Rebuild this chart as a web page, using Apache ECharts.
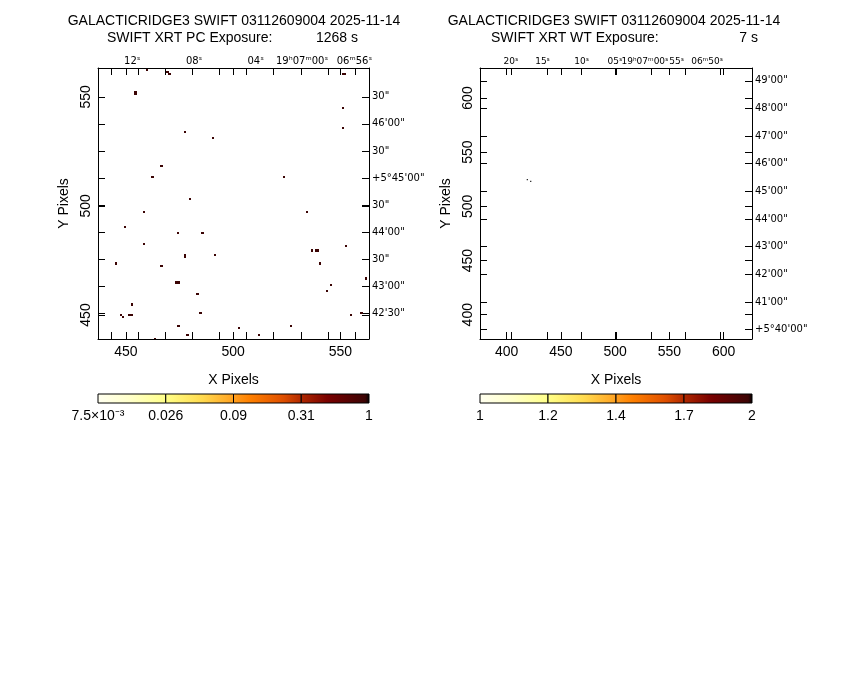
<!DOCTYPE html>
<html><head><meta charset="utf-8">
<script src="https://cdn.jsdelivr.net/npm/echarts@6/dist/echarts.min.js"></script>
<style>html,body{margin:0;padding:0;background:#fff}#c{width:850px;height:680px}</style>
</head><body><div id="c"></div>
<script>
// ---------------- data ----------------
const titleLine = 'GALACTICRIDGE3 SWIFT 03112609004 2025-11-14';
const pcSubtitle = 'SWIFT XRT PC Exposure:';
const pcExposure = '1268 s';
const wtSubtitle = 'SWIFT XRT WT Exposure:';
const wtExposure = '7 s';

const pcXRange = [437.0, 563.3];
const pcYRange = [439.0, 563.2];
const wtXRange = [375.4, 626.2];
const wtYRange = [377.6, 627.7];

const pcPixelTicks = [450, 500, 550];
const wtPixelTicks = [400, 450, 500, 550, 600];

const pcRaTicks = [443.4, 455.7, 468.5, 480.9, 493.7, 506.2, 518.9, 531.7, 544.1, 557.0];
const pcRaLabelPos = [453.0, 481.8, 510.5, 532.1, 556.5];
const pcRaLabels = ['12ˢ', '08ˢ', '04ˢ', '19ʰ07ᵐ00ˢ', '06ᵐ56ˢ'];
const pcDecTicks = [550.0, 537.6, 525.2, 512.8, 500.4, 488.0, 475.6, 463.2, 450.8];
const pcDecLabels = ['30"', "46'00\"", '30"', "+5°45'00\"", '30"', "44'00\"", '30"', "43'00\"", "42'30\""];

const wtRaTicks = [404.6, 437.5, 469.2, 500.9, 532.9, 564.5, 596.8];
const wtRaLabelPos = [404.0, 433.1, 469.2, 499.9, 527.5, 556.8, 584.8];
const wtRaLabels = ['20ˢ', '15ˢ', '10ˢ', '05ˢ', '19ʰ07ᵐ00ˢ', '55ˢ', '06ᵐ50ˢ'];
const wtDecTicks = [615.9, 590.5, 564.9, 539.7, 513.5, 488.0, 463.1, 437.0, 411.5, 386.3];
const wtDecLabels = ["49'00\"", "48'00\"", "47'00\"", "46'00\"", "45'00\"", "44'00\"", "43'00\"", "42'00\"", "41'00\"", "+5°40'00\""];

// events: [x pixel, y pixel, value]
const pcEvents = [
  [459.7, 562.3, 0.93], [469.4, 561.4, 0.93], [470.3, 560.4, 0.93],
  [454.5, 552.1, 0.93], [454.5, 551.1, 0.93],
  [477.5, 534.0, 0.93], [490.6, 531.0, 0.93], [466.6, 518.2, 0.93], [462.4, 513.3, 0.93], [479.8, 503.1, 0.93],
  [551.0, 560.5, 0.93], [552.0, 560.5, 0.93], [551.0, 545.0, 0.93], [551.0, 535.8, 0.93], [523.7, 513.3, 0.93],
  [458.5, 497.1, 0.93], [449.6, 490.4, 0.93], [474.3, 487.6, 0.93], [485.7, 487.6, 0.93], [458.5, 482.6, 0.93],
  [477.5, 477.6, 0.93], [477.5, 476.6, 0.93], [491.7, 477.4, 0.93], [445.4, 473.6, 0.93], [466.6, 472.4, 0.93],
  [473.6, 464.9, 0.93], [474.5, 464.9, 0.93], [483.4, 459.5, 0.93], [452.7, 454.8, 0.93],
  [447.7, 449.9, 0.93], [448.5, 449.1, 0.93], [451.7, 449.9, 0.93], [452.7, 449.9, 0.93], [484.8, 451.0, 0.93],
  [474.5, 445.0, 0.93], [478.7, 440.7, 0.93], [463.5, 439.0, 0.93],
  [534.5, 497.1, 0.93], [536.9, 479.6, 0.93], [538.7, 479.6, 0.93], [539.7, 479.6, 0.93], [540.6, 473.6, 0.93],
  [552.7, 481.7, 0.93], [561.8, 466.7, 0.93], [545.7, 463.8, 0.93], [543.8, 460.9, 0.93], [554.8, 449.9, 0.93],
  [559.8, 451.0, 0.93], [502.6, 444.1, 0.93], [511.9, 440.7, 0.93], [526.8, 444.8, 0.93]
];
const wtEvents = [[419.0, 524.7, 2], [422.2, 523.1, 2]];

const pcScale = [0.0075, 1];
const wtScale = [1, 2];
const pcCbarLabels = ['7.5×10⁻³', '0.026', '0.09', '0.31', '1'];
const wtCbarLabels = ['1', '1.2', '1.4', '1.7', '2'];
const cbarPos = [0, 1, 2, 3, 4];
const cbarSegments = [0, 1, 2, 3];

// colour map (position 0..1 -> colour)
const cmapStops = [
  [0, '#fffff0'], [0.12, '#ffffc8'], [0.25, '#ffff88'], [0.38, '#ffdc50'], [0.5, '#ffa020'],
  [0.56, '#ff8000'], [0.68, '#e05000'], [0.75, '#b02800'], [0.85, '#780000'], [0.985, '#3c0404'], [1, '#000000']
];

// ---------------- helpers ----------------
const FONT = '"Liberation Sans", Arial, sans-serif';
const SMALL = '"DejaVu Sans", sans-serif';

function hex(c) { return [parseInt(c.substr(1, 2), 16), parseInt(c.substr(3, 2), 16), parseInt(c.substr(5, 2), 16)]; }
function cmap(t) {
  t = Math.max(0, Math.min(1, t));
  for (let i = 1; i < cmapStops.length; i++) {
    if (t <= cmapStops[i][0]) {
      const a = cmapStops[i - 1], b = cmapStops[i];
      const f = (b[0] - a[0]) > 0 ? (t - a[0]) / (b[0] - a[0]) : 0;
      const ca = hex(a[1]), cb = hex(b[1]);
      return 'rgb(' + ca.map((v, k) => Math.round(v + (cb[k] - v) * f)).join(',') + ')';
    }
  }
  return cmapStops[cmapStops.length - 1][1];
}
function logPos(v, sc) { return Math.log(v / sc[0]) / Math.log(sc[1] / sc[0]); }

function lookup(vals, texts) {
  return function (v) {
    let best = 0, d = Infinity;
    vals.forEach((p, i) => { if (Math.abs(p - v) < d) { d = Math.abs(p - v); best = i; } });
    return texts[best];
  };
}

const tickStyle = { inside: true, length: 7, lineStyle: { color: '#000', width: 1 } };
const lineStyle = { show: true, onZero: false, lineStyle: { color: '#000', width: 1 } };

function xPix(grid, range, ticks, extraTicks) {
  return {
    gridIndex: grid, type: 'value', position: 'bottom', min: range[0], max: range[1],
    axisLine: lineStyle, splitLine: { show: false },
    axisTick: Object.assign({ customValues: ticks.concat(extraTicks) }, tickStyle),
    axisLabel: { customValues: ticks, color: '#000', fontSize: 14, fontFamily: FONT, margin: 6 },
    name: 'X Pixels', nameLocation: 'middle', nameGap: 34,
    nameTextStyle: { color: '#000', fontSize: 14, fontFamily: FONT }
  };
}
function xRa(grid, range, ticks, extraTicks, pos, labels, fs) {
  return {
    gridIndex: grid, type: 'value', position: 'top', min: range[0], max: range[1],
    axisLine: lineStyle, splitLine: { show: false },
    axisTick: Object.assign({ customValues: ticks.concat(extraTicks) }, tickStyle),
    axisLabel: { customValues: pos, formatter: lookup(pos, labels), color: '#000', fontSize: fs, fontFamily: SMALL, margin: 2 }
  };
}
function yPix(grid, range, ticks, extraTicks) {
  return {
    gridIndex: grid, type: 'value', position: 'left', min: range[0], max: range[1],
    axisLine: lineStyle, splitLine: { show: false },
    axisTick: Object.assign({ customValues: ticks.concat(extraTicks) }, tickStyle),
    axisLabel: { customValues: ticks, rotate: 90, color: '#000', fontSize: 14, fontFamily: FONT, margin: 5 },
    name: 'Y Pixels', nameLocation: 'middle', nameGap: 27,
    nameTextStyle: { color: '#000', fontSize: 14, fontFamily: FONT }
  };
}
function yDec(grid, range, ticks, extraTicks, labels) {
  return {
    gridIndex: grid, type: 'value', position: 'right', min: range[0], max: range[1],
    axisLine: lineStyle, splitLine: { show: false },
    axisTick: Object.assign({ customValues: ticks.concat(extraTicks) }, tickStyle),
    axisLabel: { customValues: ticks, formatter: lookup(ticks, labels), color: '#000', fontSize: 10, fontFamily: SMALL, margin: 3 }
  };
}
function xCbar(grid, labels) {
  return {
    gridIndex: grid, type: 'value', position: 'bottom', min: 0, max: 4,
    axisLine: { show: false }, axisTick: { show: false }, splitLine: { show: false },
    axisLabel: { customValues: cbarPos, formatter: lookup(cbarPos, labels), color: '#000', fontSize: 14, fontFamily: FONT, margin: 6 }
  };
}
function yHidden(grid) {
  return { gridIndex: grid, type: 'value', min: 0, max: 1, show: false };
}

function eventSeries(xi, yi, data, sc, snap) {
  return {
    type: 'custom', xAxisIndex: xi, yAxisIndex: yi, data: data, clip: true, silent: true,
    renderItem: function (params, api) {
      const x = api.value(0), y = api.value(1), v = api.value(2);
      const p = api.coord([x - 0.5, y + 0.5]);
      const s = api.size([1, 1]);
      let sh = { x: p[0], y: p[1], width: s[0], height: s[1] };
      if (snap) {
        const x0 = Math.round(p[0]), y0 = Math.round(p[1]);
        sh = { x: x0, y: y0, width: Math.max(1, Math.round(p[0] + s[0]) - x0), height: Math.max(1, Math.round(p[1] + s[1]) - y0) };
      }
      return { type: 'rect', shape: sh, style: { fill: cmap(logPos(v, sc)) } };
    }
  };
}
function cbarSeries(xi, yi) {
  return {
    type: 'custom', xAxisIndex: xi, yAxisIndex: yi, data: cbarSegments.map(s => [s]), silent: true,
    renderItem: function (params, api) {
      const i = api.value(0);
      const p0 = api.coord([i, 1]), p1 = api.coord([i + 1, 0]);
      const stops = [];
      for (let k = 0; k <= 16; k++) stops.push({ offset: k / 16, color: cmap((i + k / 16) / 4) });
      return {
        type: 'rect', shape: { x: p0[0], y: p0[1], width: p1[0] - p0[0], height: p1[1] - p0[1] },
        style: { fill: new echarts.graphic.LinearGradient(0, 0, 1, 0, stops), stroke: '#000', lineWidth: 1 }
      };
    }
  };
}

const chart = echarts.init(document.getElementById('c'), null, { renderer: 'canvas' });
const txt = (x, y, text, align) => ({
  type: 'text', x: x, y: y,
  style: { text: text, fill: '#000', font: '14px ' + FONT, textAlign: align, textVerticalAlign: 'middle' }
});

chart.setOption({
  animation: false,
  backgroundColor: '#fff',
  graphic: [
    txt(234, 21, titleLine, 'center'),
    txt(107, 38, pcSubtitle, 'left'),
    txt(358, 38, pcExposure, 'right'),
    txt(614, 21, titleLine, 'center'),
    txt(491, 38, wtSubtitle, 'left'),
    txt(758, 38, wtExposure, 'right')
  ],
  grid: [
    { left: 98, top: 68, width: 271, height: 271 },
    { left: 98, top: 394, width: 271, height: 9 },
    { left: 480, top: 68, width: 272, height: 271 },
    { left: 480, top: 394, width: 272, height: 9 }
  ],
  xAxis: [
    xPix(0, pcXRange, pcPixelTicks, pcRaTicks),
    xRa(0, pcXRange, pcRaTicks, pcPixelTicks, pcRaLabelPos, pcRaLabels, 10),
    xCbar(1, pcCbarLabels),
    xPix(2, wtXRange, wtPixelTicks, wtRaTicks),
    xRa(2, wtXRange, wtRaTicks, wtPixelTicks, wtRaLabelPos, wtRaLabels, 9),
    xCbar(3, wtCbarLabels)
  ],
  yAxis: [
    yPix(0, pcYRange, pcPixelTicks, pcDecTicks),
    yDec(0, pcYRange, pcDecTicks, pcPixelTicks, pcDecLabels),
    yHidden(1),
    yPix(2, wtYRange, wtPixelTicks, wtDecTicks),
    yDec(2, wtYRange, wtDecTicks, wtPixelTicks, wtDecLabels),
    yHidden(3)
  ],
  series: [
    eventSeries(0, 0, pcEvents, pcScale, true),
    cbarSeries(2, 2),
    eventSeries(3, 3, wtEvents, wtScale, false),
    cbarSeries(5, 5)
  ]
});
</script></body></html>
